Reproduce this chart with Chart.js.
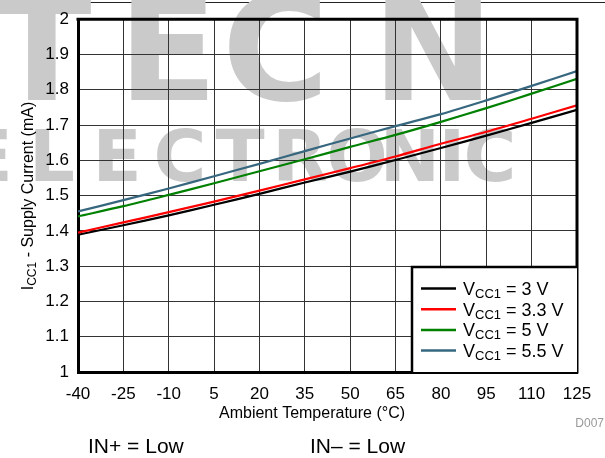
<!DOCTYPE html>
<html>
<head>
<meta charset="utf-8">
<script src="https://cdn.jsdelivr.net/npm/chart.js@4.4.1/dist/chart.umd.min.js"></script>
<style>
  html, body { margin: 0; padding: 0; background: #fff; }
  #wrap { width: 605px; height: 458px; }
</style>
</head>
<body>
<div id="wrap"><canvas id="iccChart" width="605" height="458"></canvas></div>
<script>
// ambient temperature (°C)
const temps = [-40, -25, -10, 5, 20, 35, 50, 65, 80, 95, 110, 125];
// supply current ICC1 (mA), one list per supply voltage
const icc3v0 = [1.389, 1.416, 1.444, 1.474, 1.505, 1.537, 1.568, 1.601, 1.635, 1.670, 1.706, 1.743];
const icc3v3 = [1.395, 1.424, 1.453, 1.483, 1.514, 1.546, 1.578, 1.611, 1.647, 1.681, 1.718, 1.756];
const icc5v0 = [1.441, 1.470, 1.502, 1.535, 1.569, 1.603, 1.638, 1.672, 1.709, 1.748, 1.789, 1.831];
const icc5v5 = [1.455, 1.487, 1.520, 1.555, 1.590, 1.626, 1.662, 1.697, 1.731, 1.770, 1.811, 1.853];
const seriesNames = ['3 V', '3.3 V', '5 V', '5.5 V'];
const seriesColors = ['#000000', '#ff0000', '#008000', '#36677f'];

const FONT = '"Liberation Sans", Arial, sans-serif';

function pts(vals) {
    return temps.map((t, i) => ({ x: t, y: vals[i] }));
}

// draw text made of parts (for the subscripts)
function richWidth(ctx, parts) {
    let w = 0;
    parts.forEach(p => {
        ctx.font = p.size + 'px ' + FONT;
        w += ctx.measureText(p.text).width;
    });
    return w;
}
function drawRich(ctx, parts, x, y) {
    ctx.textBaseline = 'alphabetic';
    ctx.textAlign = 'left';
    parts.forEach(p => {
        ctx.font = p.size + 'px ' + FONT;
        ctx.fillText(p.text, x, y + (p.dy || 0));
        x += ctx.measureText(p.text).width;
    });
}

const decor = {
    id: 'decor',
    beforeDraw(chart) {
        const ctx = chart.ctx;
        ctx.save();
        ctx.fillStyle = '#fff';
        ctx.fillRect(0, 0, chart.width, chart.height);
        ctx.strokeStyle = '#222';
        ctx.lineWidth = 1;
        ctx.beginPath();
        ctx.moveTo(0, 2.5);
        ctx.lineTo(chart.width, 2.5);
        ctx.stroke();
        // watermark
        ctx.fillStyle = '#cacaca';
        ctx.textBaseline = 'alphabetic';
        ctx.textAlign = 'left';
        ctx.font = 'bold 146px "DejaVu Sans", sans-serif';
        [['T', -8], ['E', 118], ['C', 222], ['N', 372]].forEach(([c, x]) => ctx.fillText(c, x, 100));
        ctx.textAlign = 'center';
        ctx.font = 'bold 72px "DejaVu Sans", sans-serif';
        [['E', -12], ['L', 52], ['E', 117], ['C', 180], ['T', 240], ['R', 300],
         ['O', 357], ['N', 410], ['I', 452], ['C', 490]].forEach(([c, x]) => ctx.fillText(c, x, 181));
        ctx.restore();
    },
    afterDatasetsDraw(chart) {
        const ctx = chart.ctx;
        const a = chart.chartArea;
        ctx.save();
        // frame top and right
        ctx.strokeStyle = '#000';
        ctx.lineWidth = 3;
        ctx.beginPath();
        ctx.moveTo(a.left - 1.5, a.top);
        ctx.lineTo(a.right, a.top);
        ctx.lineTo(a.right, a.bottom + 1.5);
        ctx.stroke();

        // legend box
        const bx = 412, by = 267;
        ctx.fillStyle = '#fff';
        ctx.fillRect(bx, by, a.right - bx, a.bottom - by);
        ctx.lineWidth = 2.5;
        ctx.beginPath();
        ctx.moveTo(bx, a.bottom);
        ctx.lineTo(bx, by);
        ctx.lineTo(a.right, by);
        ctx.stroke();
        seriesNames.forEach((name, i) => {
            const y = 288.5 + i * 20.7;
            ctx.strokeStyle = seriesColors[i];
            ctx.lineWidth = 2.5;
            ctx.beginPath();
            ctx.moveTo(421, y);
            ctx.lineTo(456, y);
            ctx.stroke();
            ctx.fillStyle = '#000';
            drawRich(ctx, [
                { text: 'V', size: 18 },
                { text: 'CC1', size: 13, dy: 3 },
                { text: ' = ' + name, size: 18 }
            ], 463, y + 6.5);
        });
        ctx.restore();
    },
    afterDraw(chart) {
        const ctx = chart.ctx;
        ctx.save();
        ctx.fillStyle = '#000';
        // y axis title
        const yParts = [
            { text: 'I', size: 16 },
            { text: 'CC1', size: 12, dy: 3 },
            { text: ' - Supply Current (mA)', size: 16 }
        ];
        ctx.translate(33, 196);
        ctx.rotate(-Math.PI / 2);
        drawRich(ctx, yParts, -richWidth(ctx, yParts) / 2, 0);
        ctx.setTransform(1, 0, 0, 1, 0, 0);
        // x axis title
        ctx.font = '16px ' + FONT;
        ctx.textAlign = 'center';
        ctx.textBaseline = 'middle';
        ctx.fillText('Ambient Temperature (\u00B0C)', 312, 414);
        ctx.fillStyle = '#999';
        ctx.font = '12px ' + FONT;
        ctx.textAlign = 'right';
        ctx.fillText('D007', 604, 424);
        ctx.fillStyle = '#000';
        ctx.font = '21px ' + FONT;
        ctx.textAlign = 'left';
        ctx.fillText('IN+ = Low', 88, 447);
        ctx.fillText('IN\u2013 = Low', 310, 447);
        ctx.restore();
    }
};

const ctx = document.getElementById('iccChart').getContext('2d');
const myChart = new Chart(ctx, {
    type: 'line',
    data: {
        datasets: seriesNames.map((name, i) => ({
            label: 'VCC1 = ' + name,
            data: pts([icc3v0, icc3v3, icc5v0, icc5v5][i]),
            borderColor: seriesColors[i],
            borderWidth: 2.2,
            pointRadius: 0,
            tension: 0.3,
            order: [2, 1, 0, 0][i]
        })),
    },
    options: {
        responsive: false,
        animation: false,
        layout: { padding: { left: 0, top: 18, right: 28, bottom: 0 } },
        plugins: {
            legend: { display: false },
            tooltip: { enabled: false }
        },
        scales: {
            x: {
                type: 'linear',
                min: -40,
                max: 125,
                ticks: { stepSize: 15, padding: 12, color: '#000', font: { family: FONT, size: 17 } },
                grid: { color: '#333', lineWidth: 1, drawTicks: false },
                border: { color: '#000', width: 3 },
                afterFit: (s) => { s.height = 86; }
            },
            y: {
                min: 1,
                max: 2,
                ticks: {
                    stepSize: 0.1, padding: 9, color: '#000', font: { family: FONT, size: 17 },
                    callback: (v) => String(+v.toFixed(1))
                },
                grid: { color: '#333', lineWidth: 1, drawTicks: false },
                border: { color: '#000', width: 3 },
                afterFit: (s) => { s.width = 78; }
            }
        }
    },
    plugins: [decor]
});
</script>
</body>
</html>
